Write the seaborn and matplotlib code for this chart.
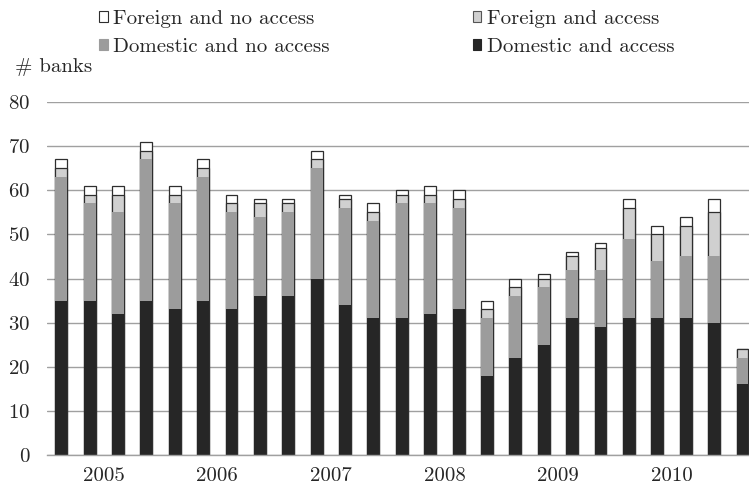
import pandas as pd
import matplotlib
matplotlib.use('Agg')
import matplotlib.pyplot as plt
from matplotlib.patches import Patch
import seaborn as sns

# quarterly counts, 2005Q1 .. 2011Q1
quarters = [f'{y}Q{q}' for y in range(2005, 2011) for q in range(1, 5)] + ['2011Q1']
dom_access = [35, 35, 32, 35, 33, 35, 33, 36, 36, 40, 34, 31,
              31, 32, 33, 18, 22, 25, 31, 29, 31, 31, 31, 30, 16]
dom_no_access = [28, 22, 23, 32, 24, 28, 22, 18, 19, 25, 22, 22,
                 26, 25, 23, 13, 14, 13, 11, 13, 18, 13, 14, 15, 6]
for_access = [2, 2, 4, 2, 2, 2, 2, 3, 2, 2, 2, 2,
              2, 2, 2, 2, 2, 2, 3, 5, 7, 6, 7, 10, 2]
for_no_access = [2, 2, 2, 2, 2, 2, 2, 1, 1, 2, 1, 2,
                 1, 2, 2, 2, 2, 1, 1, 1, 2, 2, 2, 3, 0]
years = ['2005', '2006', '2007', '2008', '2009', '2010']

df = pd.DataFrame({'quarter': quarters, 'pos': range(len(quarters)),
                   'dom_access': dom_access, 'dom_no_access': dom_no_access,
                   'for_access': for_access, 'for_no_access': for_no_access})
# cumulative heights, drawn tallest first so they stack visually
df['c1'] = df['dom_access']
df['c2'] = df['c1'] + df['dom_no_access']
df['c3'] = df['c2'] + df['for_access']
df['c4'] = df['c3'] + df['for_no_access']

sns.set_style('white')
plt.rcParams['font.family'] = ['cmr10', 'DejaVu Serif']
plt.rcParams['axes.formatter.use_mathtext'] = True

fig = plt.figure(figsize=(7.49, 4.84), dpi=100)
ax = fig.add_axes([47 / 749, 1 - 455 / 484, 1 - 47 / 749, 353 / 484])

dark, mid, light = '#262626', '#9c9c9c', '#d0d0d0'
edge = '#2e2e2e'
layers = [('c4', 'white', edge, 0.9),
          ('c3', light, edge, 0.9),
          ('c2', mid, mid, 0.0),
          ('c1', dark, dark, 0.0)]
for col, fc, ec, lw in layers:
    sns.barplot(data=df, x='pos', y=col, orient='x', native_scale=True,
                color=fc, saturation=1, edgecolor=ec, linewidth=lw,
                width=0.42, errorbar=None, ax=ax, zorder=2)

ax.set_xlim(-0.5, 24.23)
ax.set_ylim(0, 80)
ax.set_yticks(range(0, 81, 10))
ax.set_xticks([1.5 + 4 * i for i in range(len(years))])
ax.set_xticklabels(years)
ax.set_xticks([-0.5 + 4 * i for i in range(7)], minor=True)
ax.tick_params(axis='x', which='major', length=0, pad=9, labelsize=15)
ax.tick_params(axis='x', which='minor', length=5, width=0.8, color='#9a9a9a')
ax.tick_params(axis='y', length=0, pad=12, labelsize=15)
ax.set_xlabel('')
ax.set_ylabel('')

ax.grid(axis='y', color='#a0a0a0', linewidth=1.0)
ax.grid(axis='x', visible=False)
ax.set_axisbelow(True)
for s in ['top', 'right', 'left']:
    ax.spines[s].set_visible(False)
ax.spines['bottom'].set_color('#a0a0a0')
ax.spines['bottom'].set_linewidth(1.0)

handles = [Patch(facecolor='white', edgecolor=edge, linewidth=0.8),
           Patch(facecolor=mid, edgecolor=mid, linewidth=0.8),
           Patch(facecolor=light, edgecolor='#555555', linewidth=0.8),
           Patch(facecolor=dark, edgecolor=dark, linewidth=0.8)]
labels = ['Foreign and no access', 'Domestic and no access',
          'Foreign and access', 'Domestic and access']
fig.legend(handles, labels, ncol=2, loc='upper left',
           bbox_to_anchor=(99 / 749, 1 - 10 / 484), frameon=False,
           borderpad=0, borderaxespad=0, handlelength=0.43, handleheight=0.43,
           handletextpad=0.25, columnspacing=6.85, labelspacing=0.5, fontsize=15)

fig.text(15 / 749, 1 - 67 / 484, '# banks', fontsize=15, ha='left', va='center')

fig.savefig('out.png', dpi=100)
